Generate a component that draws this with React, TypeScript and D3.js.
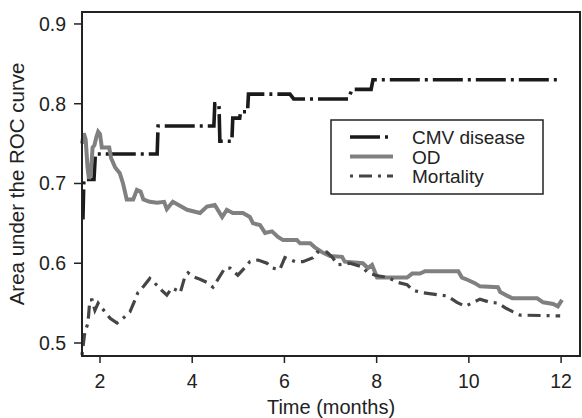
import React, { useEffect } from "react";
import * as d3 from "d3";

// time in months / AUC
const cmvTime = [1.63, 1.65, 1.87, 1.9, 3.24, 3.26, 4.47, 4.49, 4.58, 4.6, 4.86, 4.88, 5.03, 5.05, 5.2, 5.22, 6.12, 6.2, 7.38, 7.47, 7.88, 7.92, 12];
const cmvAuc = [0.655, 0.705, 0.705, 0.737, 0.737, 0.772, 0.772, 0.8, 0.8, 0.753, 0.753, 0.782, 0.782, 0.79, 0.79, 0.812, 0.812, 0.806, 0.806, 0.818, 0.818, 0.83, 0.83];

const odTime = [1.61, 1.65, 1.69, 1.73, 1.76, 1.8, 1.84, 1.88, 1.92, 1.96, 2.0, 2.04, 2.2, 2.24, 2.33, 2.43, 2.5, 2.58, 2.72, 2.8, 2.88, 2.94, 3.08, 3.24, 3.39, 3.45, 3.58, 3.89, 4.17, 4.32, 4.49, 4.65, 4.75, 4.88, 5.1, 5.25, 5.32, 5.47, 5.58, 5.73, 5.86, 5.97, 6.27, 6.34, 6.56, 6.66, 6.84, 6.99, 7.25, 7.31, 7.7, 7.81, 7.9, 8.01, 8.66, 8.77, 8.94, 9.05, 9.77, 9.85, 9.98, 10.13, 10.24, 10.63, 10.68, 10.94, 11.48, 11.61, 11.83, 11.93, 12.02];
const odAuc = [0.75, 0.763, 0.755, 0.72, 0.706, 0.712, 0.745, 0.748, 0.758, 0.765, 0.762, 0.745, 0.745, 0.732, 0.72, 0.713, 0.7, 0.68, 0.68, 0.692, 0.69, 0.68, 0.677, 0.676, 0.677, 0.668, 0.677, 0.667, 0.663, 0.671, 0.673, 0.658, 0.667, 0.663, 0.663, 0.658, 0.65, 0.648, 0.638, 0.64, 0.633, 0.629, 0.629, 0.625, 0.625, 0.62, 0.613, 0.609, 0.608, 0.602, 0.6, 0.594, 0.598, 0.582, 0.582, 0.587, 0.587, 0.59, 0.59, 0.582, 0.579, 0.575, 0.571, 0.57, 0.564, 0.556, 0.556, 0.551, 0.549, 0.546, 0.554];

const mortTime = [1.61, 1.67, 1.74, 1.78, 1.83, 1.89, 1.96, 2.04, 2.11, 2.22, 2.37, 2.5, 2.65, 2.76, 2.82, 2.93, 3.08, 3.19, 3.34, 3.45, 3.56, 3.67, 3.74, 3.84, 3.91, 4.02, 4.17, 4.32, 4.45, 4.71, 4.82, 4.99, 5.15, 5.25, 5.43, 5.62, 5.73, 5.9, 6.01, 6.23, 6.4, 6.62, 6.71, 6.92, 7.03, 7.16, 7.42, 7.7, 7.79, 7.97, 8.25, 8.46, 8.66, 8.79, 9.01, 9.38, 9.53, 9.74, 9.92, 10.24, 10.46, 10.63, 10.79, 10.96, 11.11, 11.98];
const mortAuc = [0.485, 0.513, 0.525, 0.554, 0.554, 0.541, 0.55, 0.544, 0.539, 0.531, 0.525, 0.531, 0.539, 0.554, 0.563, 0.57, 0.581, 0.575, 0.566, 0.56, 0.569, 0.566, 0.563, 0.583, 0.588, 0.583, 0.58, 0.576, 0.57, 0.594, 0.594, 0.585, 0.595, 0.602, 0.604, 0.6, 0.594, 0.592, 0.607, 0.602, 0.602, 0.607, 0.614, 0.614, 0.608, 0.598, 0.6, 0.595, 0.589, 0.585, 0.582, 0.576, 0.573, 0.566, 0.563, 0.56, 0.559, 0.551, 0.546, 0.555, 0.551, 0.55, 0.544, 0.539, 0.535, 0.534];

const xTicks = [2, 4, 6, 8, 10, 12];
const yTicks = [0.5, 0.6, 0.7, 0.8, 0.9];
const seriesNames = ["CMV disease", "OD", "Mortality"];

const W = 582;
const H = 418;
const margin = { top: 12, right: 2, bottom: 62, left: 82 };
const font = "Liberation Sans, Arial, Helvetica, sans-serif";

const styles = [
  { color: "#1a1a1a", width: 3.6, dash: "30 5 3 5" },
  { color: "#808080", width: 4, dash: "" },
  { color: "#454545", width: 3.2, dash: "3 6 13 6" },
];

const App = () => {
  useEffect(() => {
    document.body.style.margin = "0";
  }, []);

  const x = d3.scaleLinear().domain([1.61, 12.41]).range([margin.left, W - margin.right]);
  const y = d3.scaleLinear().domain([0.4837, 0.915]).range([H - margin.bottom, margin.top]);

  const line = d3
    .line<[number, number]>()
    .x((d) => x(d[0]))
    .y((d) => y(d[1]));

  const series = [
    d3.zip(cmvTime, cmvAuc),
    d3.zip(odTime, odAuc),
    d3.zip(mortTime, mortAuc),
  ] as [number, number][][];

  const x0 = margin.left;
  const x1 = W - margin.right;
  const y0 = H - margin.bottom;
  const y1 = margin.top;

  const legX = 331;
  const legY = 120;
  const rowH = 19.5;

  return (
    <svg width={W} height={H} style={{ display: "block", background: "#fff" }}>
      <g>
        {series.map((s, i) => (
          <path
            key={i}
            d={line(s) || ""}
            fill="none"
            stroke={styles[i].color}
            strokeWidth={styles[i].width}
            strokeDasharray={styles[i].dash}
            strokeLinejoin="miter"
          />
        ))}
      </g>

      <rect x={x0} y={y1} width={x1 - x0} height={y0 - y1} fill="none" stroke="#222" strokeWidth={2} />

      {xTicks.map((t) => (
        <g key={t}>
          <line x1={x(t)} x2={x(t)} y1={y0} y2={y0 + 7} stroke="#222" strokeWidth={1.5} />
          <text x={x(t)} y={y0 + 32} textAnchor="middle" fontFamily={font} fontSize={19.5} fill="#222">
            {t}
          </text>
        </g>
      ))}
      {yTicks.map((t) => (
        <g key={t}>
          <line x1={x0 - 8} x2={x0} y1={y(t)} y2={y(t)} stroke="#222" strokeWidth={1.5} />
          <text x={x0 - 16} y={y(t) + 7} textAnchor="end" fontFamily={font} fontSize={19.5} fill="#222">
            {t.toFixed(1)}
          </text>
        </g>
      ))}

      <text x={(x0 + x1) / 2} y={414} textAnchor="middle" fontFamily={font} fontSize={20} fill="#222">
        Time (months)
      </text>
      <text
        transform={`translate(24,${(y0 + y1) / 2}) rotate(-90)`}
        textAnchor="middle"
        fontFamily={font}
        fontSize={20.5}
        fill="#222"
      >
        Area under the ROC curve
      </text>

      <rect x={legX} y={legY} width={212} height={74} fill="#fff" stroke="#222" strokeWidth={1.5} />
      {seriesNames.map((n, i) => (
        <g key={n}>
          <line
            x1={legX + 19}
            x2={legX + 62}
            y1={legY + 17 + i * rowH}
            y2={legY + 17 + i * rowH}
            stroke={styles[i].color}
            strokeWidth={styles[i].width}
            strokeDasharray={styles[i].dash}
          />
          <text x={legX + 81} y={legY + 24 + i * rowH} fontFamily={font} fontSize={19} fill="#222">
            {n}
          </text>
        </g>
      ))}
    </svg>
  );
};

export default App;
